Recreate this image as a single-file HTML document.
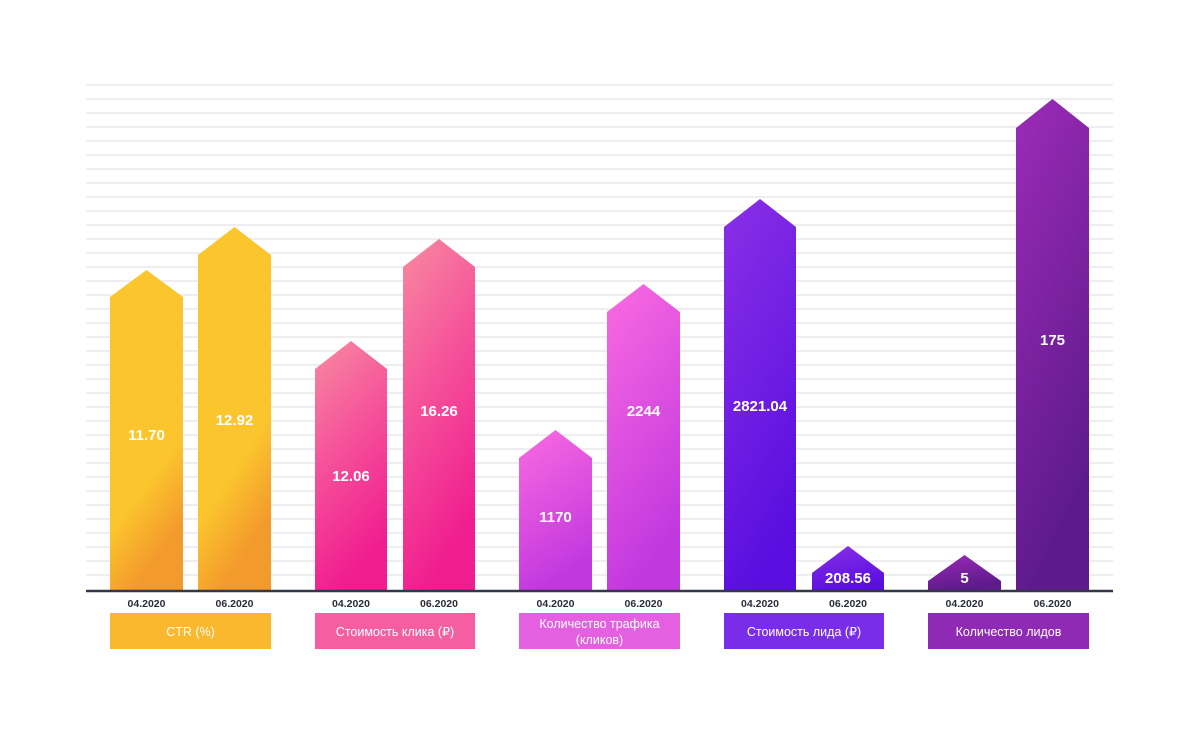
<!DOCTYPE html>
<html><head><meta charset="utf-8"><style>
html,body{margin:0;padding:0;background:#fff;}
svg{display:block;}
text{font-family:"Liberation Sans","DejaVu Sans",sans-serif;}
</style></head><body>
<svg width="1200" height="735" viewBox="0 0 1200 735" xmlns="http://www.w3.org/2000/svg">
<defs>
<linearGradient id="g1" x1="0" y1="0" x2="0.3" y2="1"><stop offset="0.75" stop-color="#fbc52d"/><stop offset="1" stop-color="#f39a2c"/></linearGradient>
<linearGradient id="g2" x1="0" y1="0" x2="0.3" y2="1"><stop offset="0" stop-color="#f88aa0"/><stop offset="0.5" stop-color="#f5509a"/><stop offset="1" stop-color="#f01d8f"/></linearGradient>
<linearGradient id="g3" x1="0" y1="0" x2="0.3" y2="1"><stop offset="0" stop-color="#fa6be0"/><stop offset="1" stop-color="#c238df"/></linearGradient>
<linearGradient id="g4" x1="0" y1="0" x2="0.3" y2="1"><stop offset="0" stop-color="#8a30e6"/><stop offset="1" stop-color="#5a0fe0"/></linearGradient>
<linearGradient id="g5" x1="0" y1="0" x2="0.3" y2="1"><stop offset="0" stop-color="#9c2bb8"/><stop offset="1" stop-color="#5c1a8a"/></linearGradient>
</defs>
<g stroke="#e9e9ec" stroke-width="1.5">
<script>/* none */</script>
</g>
<g id="grid" stroke="#e8e8eb" stroke-width="1.5"></g>
<g stroke="#e8e8eb" stroke-width="1.5">
<line x1="86" x2="1113" y1="85" y2="85"/><line x1="86" x2="1113" y1="99" y2="99"/><line x1="86" x2="1113" y1="113" y2="113"/><line x1="86" x2="1113" y1="127" y2="127"/><line x1="86" x2="1113" y1="141" y2="141"/><line x1="86" x2="1113" y1="155" y2="155"/><line x1="86" x2="1113" y1="169" y2="169"/><line x1="86" x2="1113" y1="183" y2="183"/><line x1="86" x2="1113" y1="197" y2="197"/><line x1="86" x2="1113" y1="211" y2="211"/><line x1="86" x2="1113" y1="225" y2="225"/><line x1="86" x2="1113" y1="239" y2="239"/><line x1="86" x2="1113" y1="253" y2="253"/><line x1="86" x2="1113" y1="267" y2="267"/><line x1="86" x2="1113" y1="281" y2="281"/><line x1="86" x2="1113" y1="295" y2="295"/><line x1="86" x2="1113" y1="309" y2="309"/><line x1="86" x2="1113" y1="323" y2="323"/><line x1="86" x2="1113" y1="337" y2="337"/><line x1="86" x2="1113" y1="351" y2="351"/><line x1="86" x2="1113" y1="365" y2="365"/><line x1="86" x2="1113" y1="379" y2="379"/><line x1="86" x2="1113" y1="393" y2="393"/><line x1="86" x2="1113" y1="407" y2="407"/><line x1="86" x2="1113" y1="421" y2="421"/><line x1="86" x2="1113" y1="435" y2="435"/><line x1="86" x2="1113" y1="449" y2="449"/><line x1="86" x2="1113" y1="463" y2="463"/><line x1="86" x2="1113" y1="477" y2="477"/><line x1="86" x2="1113" y1="491" y2="491"/><line x1="86" x2="1113" y1="505" y2="505"/><line x1="86" x2="1113" y1="519" y2="519"/><line x1="86" x2="1113" y1="533" y2="533"/><line x1="86" x2="1113" y1="547" y2="547"/><line x1="86" x2="1113" y1="561" y2="561"/><line x1="86" x2="1113" y1="575" y2="575"/>
</g>
<!-- bars -->
<polygon fill="url(#g1)" points="110,591 110,297 146.5,270 183,297 183,591"/>
<polygon fill="url(#g1)" points="198,591 198,255 234.5,227 271,255 271,591"/>
<polygon fill="url(#g2)" points="315,591 315,369 351,341 387,369 387,591"/>
<polygon fill="url(#g2)" points="403,591 403,267 439,239 475,267 475,591"/>
<polygon fill="url(#g3)" points="519,591 519,458 555.5,430 592,458 592,591"/>
<polygon fill="url(#g3)" points="607,591 607,312 643.5,284 680,312 680,591"/>
<polygon fill="url(#g4)" points="724,591 724,227 760,199 796,227 796,591"/>
<polygon fill="url(#g4)" points="812,591 812,573 848,546 884,573 884,591"/>
<polygon fill="url(#g5)" points="928,591 928,581 964.5,555 1001,581 1001,591"/>
<polygon fill="url(#g5)" points="1016,591 1016,128 1052.5,99 1089,128 1089,591"/>
<line x1="86" x2="1113" y1="591" y2="591" stroke="#33374a" stroke-width="2.5"/>
<g fill="#fff" font-weight="bold" font-size="15" text-anchor="middle">
<text x="146.5" y="440">11.70</text>
<text x="234.5" y="425">12.92</text>
<text x="351" y="481">12.06</text>
<text x="439" y="416">16.26</text>
<text x="555.5" y="522">1170</text>
<text x="643.5" y="416">2244</text>
<text x="760" y="411">2821.04</text>
<text x="848" y="583">208.56</text>
<text x="964.5" y="583">5</text>
<text x="1052.5" y="345">175</text>
</g>
<g fill="#2a2d3a" font-weight="bold" font-size="10.5" text-anchor="middle">
<text x="146.5" y="607">04.2020</text><text x="234.5" y="607">06.2020</text>
<text x="351" y="607">04.2020</text><text x="439" y="607">06.2020</text>
<text x="555.5" y="607">04.2020</text><text x="643.5" y="607">06.2020</text>
<text x="760" y="607">04.2020</text><text x="848" y="607">06.2020</text>
<text x="964.5" y="607">04.2020</text><text x="1052.5" y="607">06.2020</text>
</g>
<rect x="110" y="613" width="161" height="36" fill="#f9b82e"/>
<rect x="315" y="613" width="160" height="36" fill="#f55fa2"/>
<rect x="519" y="613" width="161" height="36" fill="#e460e0"/>
<rect x="724" y="613" width="160" height="36" fill="#7a2de8"/>
<rect x="928" y="613" width="161" height="36" fill="#8f2ab5"/>
<g fill="#fff" font-size="12.5" text-anchor="middle">
<text x="190.5" y="636">CTR (%)</text>
<text x="395" y="636">Стоимость клика (₽)</text>
<text x="599.5" y="628">Количество трафика</text>
<text x="599.5" y="644">(кликов)</text>
<text x="804" y="636">Стоимость лида (₽)</text>
<text x="1008.5" y="636">Количество лидов</text>
</g>
</svg>
</body></html>
